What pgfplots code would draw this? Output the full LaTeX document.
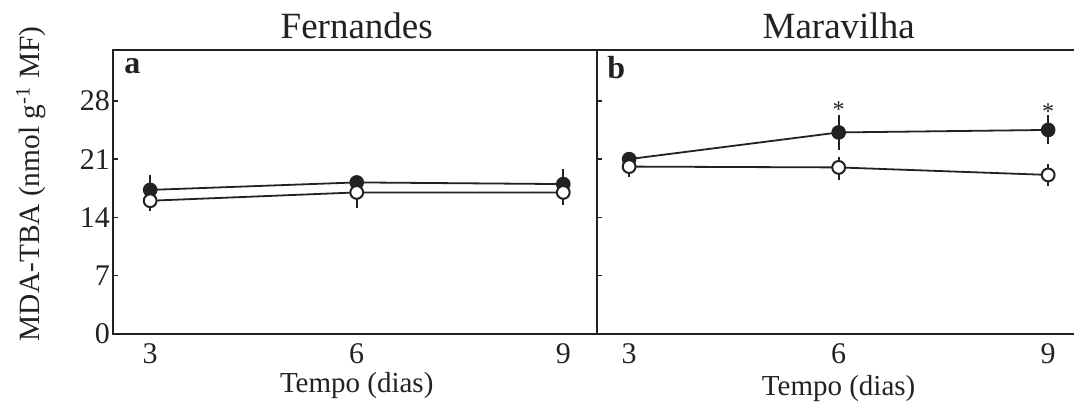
\documentclass[border=0pt]{standalone}
\usepackage{fontspec}
\setmainfont{Liberation Serif}
\usepackage{pgfplots}
\pgfplotsset{compat=1.18}

\definecolor{ink}{HTML}{222222}

\pgfplotsset{
  mdapanel/.style={
    scale only axis,
    height=142pt,
    ymin=0, ymax=34.1,
    ytick={0,7,14,21,28},
    xtick={3,6,9},
    tick align=inside,
    major tick length=2.5pt,
    ytick pos=left,
    xtick style={draw=none},
    axis line style={ink, line width=1pt},
    every tick/.style={ink, line width=0.8pt},
    tick label style={font=\fontsize{15}{17}\selectfont, text=ink},
    /pgf/number format/assume math mode=true,
    clip=false,
    xticklabel style={yshift=-1.5pt},
    yticklabel style={xshift=2pt},
    error bars/y dir=both,
    error bars/y explicit,
    error bars/error bar style={ink, line width=0.9pt},
    error bars/error mark options={ink, line width=0.9pt, mark size=2.1pt},
  },
  filled/.style={ink, line width=0.9pt, mark=*, mark size=3.2pt,
    mark options={fill=ink, draw=ink}},
  hollow/.style={ink, line width=0.9pt, mark=*, mark size=3.2pt,
    mark options={fill=white, draw=ink, line width=1pt}},
}
\tikzset{
  paneltitle/.style={anchor=base, font=\fontsize{18.5}{20}\selectfont, text=ink},
  panelxlabel/.style={anchor=base, font=\fontsize{14.5}{16}\selectfont, text=ink},
  panelletter/.style={anchor=base west, inner sep=0pt, font=\bfseries\fontsize{16}{18}\selectfont, text=ink},
  signif/.style={font=\fontsize{12}{14}\selectfont, text=ink, inner sep=0pt, yshift=-2pt},
}

\begin{document}
\begin{tikzpicture}
\useasboundingbox (0,0) rectangle (537pt,202.5pt);

% Fernandes
\begin{axis}[mdapanel, at={(56.5pt,35.5pt)}, anchor=south west,
  width=242pt, xmin=2.46, xmax=9.49]
  \addplot[filled] coordinates {
    (3,17.3) += (0,1.3) -= (0,0)
    (6,18.2) +- (0,0.3)
    (9,18.0) += (0,1.3) -= (0,0)
  };
  \addplot[hollow] coordinates {
    (3,16.0) += (0,0) -= (0,0.7)
    (6,17.0) += (0,0) -= (0,1.4)
    (9,17.0) += (0,0) -= (0,1.0)
  };
  \node[paneltitle] at (axis cs:6,34.1) [yshift=5.5pt] {Fernandes};
  \node[panelxlabel] at (axis cs:6,0) [yshift=-29.5pt] {Tempo (dias)};
  \node[panelletter] at (rel axis cs:0,1) [xshift=5.5pt, yshift=-12pt] {a};
  \node[xshift=-36.5pt, yshift=4pt, anchor=base, rotate=90,
    font=\fontsize{14.7}{17}\selectfont, text=ink]
    at (rel axis cs:0,0.5)
    {MDA-TBA (nmol g\textsuperscript{-1} MF)};
\end{axis}

% Maravilha
\begin{axis}[mdapanel, at={(298.5pt,35.5pt)}, anchor=south west,
  width=238.5pt, xmin=2.54, xmax=9.37, yticklabels={},
  axis y line*=left]
  \addplot[filled] coordinates {
    (3,21.0) +- (0,0.3)
    (6,24.2) +- (0,1.6)
    (9,24.5) += (0,1.3) -= (0,1.2)
  };
  \addplot[hollow] coordinates {
    (3,20.1) += (0,0) -= (0,0.8)
    (6,20.0) += (0,0.8) -= (0,1.0)
    (9,19.1) +- (0,0.8)
  };
  \node[signif] at (axis cs:6,27.4) {*};
  \node[signif] at (axis cs:9,27.2) {*};
  \node[paneltitle] at (axis cs:6,34.1) [yshift=5.5pt] {Maravilha};
  \node[panelxlabel] at (axis cs:6,0) [yshift=-31pt] {Tempo (dias)};
  \node[panelletter] at (rel axis cs:0,1) [xshift=5pt, yshift=-14.5pt] {b};
\end{axis}
\end{tikzpicture}
\end{document}
